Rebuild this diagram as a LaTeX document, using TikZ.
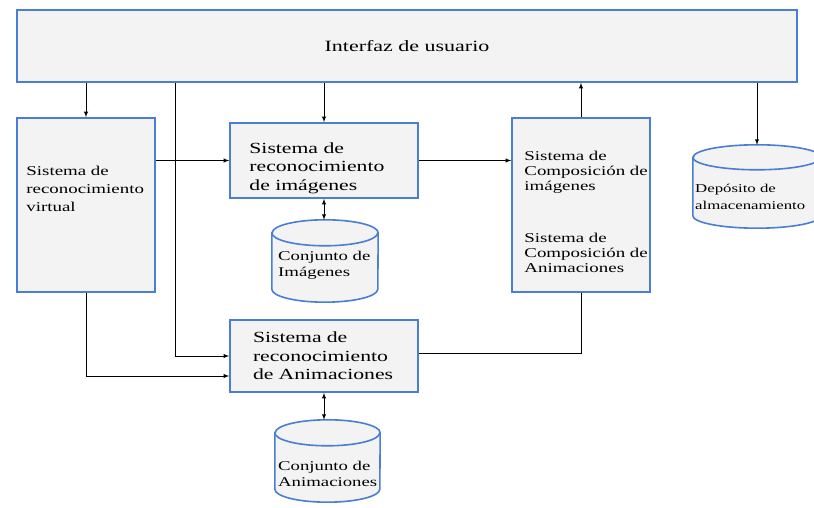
\documentclass[tikz,border=0pt]{standalone}
\usepackage{fontspec}
\setmainfont{Liberation Serif}[FakeStretch=1.4]
\usetikzlibrary{arrows}

\definecolor{cajaazul}{RGB}{74,125,212}
\definecolor{cajagris}{RGB}{243,243,243}

% cilindro: nombre, posicion, ancho, alto, radio de la tapa
\newcommand{\almacen}[5]{%
	\node[minimum width=#3,minimum height=#4,inner sep=0pt] (#1) at #2 {};
	\filldraw[borde,fill=cajagris] ([yshift=-#5pt]#1.north west) -- ([yshift=#5pt]#1.south west)
		arc[start angle=180,end angle=360,x radius=#3/2,y radius=#5]
		-- ([yshift=-#5pt]#1.north east)
		arc[start angle=0,end angle=180,x radius=#3/2,y radius=#5] -- cycle;
	\draw[borde] ([yshift=-#5pt]#1.north west) arc[start angle=180,end angle=360,x radius=#3/2,y radius=#5];
}

\begin{document}
\begin{tikzpicture}[x=1pt,y=1pt,>=latex,
		borde/.style={draw=cajaazul,line width=1.6pt},
		caja/.style={borde,fill=cajagris,inner sep=0pt},
		rotulo/.style={anchor=north west,align=left,inner sep=0pt},
		enlace/.style={line width=0.9pt}]
		
		\useasboundingbox (0,0) rectangle (814,508);
		
		% interfaz
		\node[caja,minimum width=780,minimum height=72,font=\fontsize{15.7}{19}\selectfont] (ui) at (407,462) {Interfaz de usuario};
		
		% sistemas
		\node[caja,minimum width=138,minimum height=174] (virt) at (86,303) {};
		\node[rotulo,font=\fontsize{13.5}{18}\selectfont] (virtlabel) at ([shift={(10,-49)}]virt.north west) {Sistema de\\reconocimiento\\virtual};
		\node[caja,minimum width=188,minimum height=75] (img) at (324,347.5) {};
		\node[rotulo,font=\fontsize{15.5}{18.5}\selectfont] (imglabel) at ([shift={(20,-20)}]img.north west) {Sistema de\\reconocimiento\\de imágenes};
		\node[caja,minimum width=138,minimum height=174] (comp) at (581,303) {};
		\node[rotulo,font=\fontsize{13.5}{15}\selectfont] (complabel) at ([shift={(13,-34)}]comp.north west) {Sistema de\\Composición de\\imágenes\\[37pt]Sistema de\\Composición de\\Animaciones};
		\node[caja,minimum width=188,minimum height=72,text width=142pt,align=left,font=\fontsize{15.5}{18.5}\selectfont] (anim) at (324,152) {Sistema de\\reconocimiento\\de Animaciones};
		
		% depositos
		\almacen{cimg}{(325,247)}{106}{82}{13}
		\node[rotulo,anchor=west,font=\fontsize{13.4}{16}\selectfont] (cimglabel) at ([shift={(-47,-4.5)}]cimg.center) {Conjunto de\\Imágenes};
		\almacen{canim}{(327.5,47)}{105}{82}{13}
		\node[rotulo,anchor=west,font=\fontsize{13.4}{16}\selectfont] (canimlabel) at ([shift={(-49.5,-12.5)}]canim.center) {Conjunto de\\Animaciones};
		\almacen{dep}{(757,321.5)}{128}{83}{12.5}
		\node[rotulo,anchor=west,font=\fontsize{12}{17}\selectfont] (deplabel) at ([shift={(-62,-10)}]dep.center) {Depósito de\\almacenamiento};
		
		% conexiones
		\coordinate (bus) at (175,0);
		\draw[enlace,->] (ui.south -| virt.north) -- (virt.north);
		\draw[enlace,->] (ui.south -| bus) |- (anim.west);
		\draw[enlace,->] (ui.south -| img.north) -- (img.north);
		\draw[enlace,->] (comp.north) -- (comp.north |- ui.south);
		\draw[enlace,->] (ui.south -| dep.north) -- (dep.north);
		\draw[enlace,->] (virt.east |- img.west) -- (img.west);
		\draw[enlace,->] (img.east) -- (img.east -| comp.west);
		\draw[enlace,<->] (img.south) -- (img.south |- cimg.north);
		\draw[enlace,->] (virt.south) |- ([yshift=-20pt]anim.west);
		\draw[enlace] (comp.south) |- ([yshift=3pt]anim.east);
		\draw[enlace,<->] (anim.south) -- (anim.south |- canim.north);
		
	\end{tikzpicture}
\end{document}
